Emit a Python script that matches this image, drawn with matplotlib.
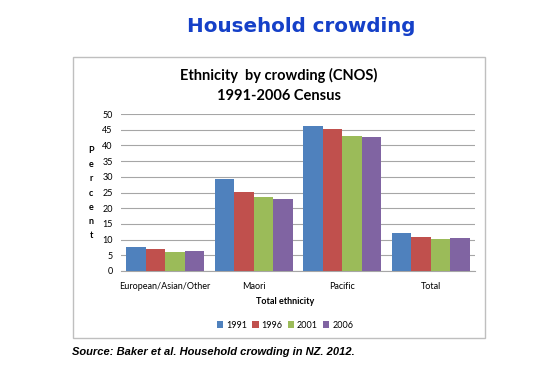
#Household crowding chart recreation
import numpy as np
import matplotlib
matplotlib.use("Agg")
import matplotlib.pyplot as plt
from matplotlib.patches import Rectangle

#data
categories = ["European/Asian/Other", "Maori", "Pacific", "Total"]
years = ["1991", "1996", "2001", "2006"]
v1991 = [7.5, 29.2, 46.2, 12.0]
v1996 = [6.9, 25.3, 45.2, 10.9]
v2001 = [6.1, 23.5, 43.0, 10.1]
v2006 = [6.3, 22.8, 42.8, 10.6]
series = [v1991, v1996, v2001, v2006]
colors = ["#4F81BD", "#C0504D", "#9BBB59", "#8064A2"]

fnt = "Lato"

fig = plt.figure(figsize=(5.5, 3.75), dpi=100)
W, H = 550, 375

#main title
fig.text(301 / W, 1 - 26 / H, "Household crowding", ha="center", va="center",
         fontsize=14.3, fontweight="heavy", color="#1540C8", family="DejaVu Sans")

#chart frame
fig.patches.append(Rectangle((73 / W, 1 - 338 / H), (485 - 73) / W, (338 - 57) / H,
                             transform=fig.transFigure, fill=False,
                             edgecolor="#BFBFBF", linewidth=1.0))

#chart title
fig.text(279 / W, 1 - 75 / H, "Ethnicity  by crowding (CNOS)", ha="center", va="center",
         fontsize=10.5, fontweight="bold", family=fnt)
fig.text(279 / W, 1 - 96 / H, "1991-2006 Census", ha="center", va="center",
         fontsize=10.5, fontweight="bold", family=fnt)

ax = fig.add_axes([121 / W, 1 - 271 / H, (475 - 121) / W, (271 - 114) / H])
x = np.arange(len(categories))
bw = 0.22
for i, vals in enumerate(series):
    ax.bar(x + (i - 1.5) * bw, vals, bw, color=colors[i], label=years[i], zorder=3)

ax.set_xlim(-0.5, len(categories) - 0.5)
ax.set_ylim(0, 50)
ax.set_yticks(range(0, 51, 5))
ax.grid(axis="y", color="#A6A6A6", linewidth=0.8, zorder=0)
for s in ["top", "right", "left"]:
    ax.spines[s].set_visible(False)
ax.spines["bottom"].set_color("#A6A6A6")
ax.set_xticks(x)
ax.set_xticklabels(categories, family=fnt, fontsize=6.5)
ax.tick_params(axis="x", length=0, pad=8)
ax.tick_params(axis="y", length=0, labelsize=6.5, pad=6)
for lab in ax.get_yticklabels():
    lab.set_family(fnt)

#stacked y label
fig.text(91 / W, 1 - 193 / H, "\n".join("Percent"), ha="center", va="center",
         fontsize=6.5, fontweight="bold", family=fnt, linespacing=1.75)

fig.text(285 / W, 1 - 302 / H, "Total ethnicity", ha="center", va="center",
         fontsize=6.5, fontweight="bold", family=fnt)

fig.legend(loc="center", bbox_to_anchor=(285 / W, 1 - 325 / H), ncol=4, frameon=False,
           prop={"family": fnt, "size": 6.5}, handlelength=0.7, handleheight=0.7,
           handletextpad=0.3, columnspacing=0.6)

fig.text(72 / W, 1 - 352 / H, "Source: Baker et al. Household crowding in NZ. 2012.",
         ha="left", va="center", fontsize=8, fontweight="bold", fontstyle="italic",
         family="Liberation Sans")

fig.savefig("out.png", dpi=100)
